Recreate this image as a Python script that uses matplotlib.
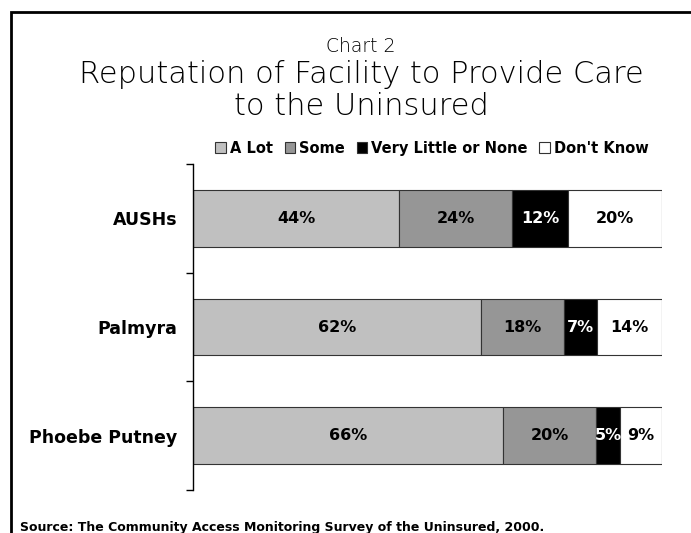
import numpy as np
import matplotlib
matplotlib.use("Agg")
import matplotlib.pyplot as plt
from matplotlib.patches import Rectangle, Patch

# data
facilities = ["AUSHs", "Palmyra", "Phoebe Putney"]
responses = ["A Lot", "Some", "Very Little or None", "Don't Know"]
a_lot = [44, 62, 66]
some = [24, 18, 20]
very_little = [12, 7, 5]
dont_know = [20, 14, 9]

colours = ["#c0c0c0", "#969696", "#000000", "#ffffff"]
text_colours = ["black", "black", "white", "black"]

plt.rcParams["font.family"] = ["DejaVu Sans"]

fig = plt.figure(figsize=(6.91, 5.33), dpi=100)
ax = fig.add_axes([193 / 691, 1 - 490 / 533, (662 - 193) / 691, (490 - 164) / 533])

# outer frame
fig.patches.append(Rectangle((11 / 691, -0.05), 1.0, 1 - 12 / 533 + 0.05,
                             transform=fig.transFigure, fill=False,
                             edgecolor="black", linewidth=2))

series = np.array([a_lot, some, very_little, dont_know], dtype=float)
totals = series.sum(axis=0)
shares = series / totals * 100  # 100% stacked like the original

y = np.arange(len(facilities))
left = np.zeros(len(facilities))
for k in range(len(responses)):
    ax.barh(y, shares[k], left=left, height=0.52, color=colours[k],
            edgecolor="#333333", linewidth=0.8, label=responses[k], zorder=2)
    for i in range(len(facilities)):
        ax.text(left[i] + shares[k][i] / 2, y[i], f"{int(series[k][i])}%",
                ha="center", va="center", fontsize=11.5, fontweight="bold",
                color=text_colours[k], zorder=3)
    left += shares[k]

ax.set_xlim(0, 100)
ax.set_ylim(2.5, -0.5)
ax.set_xticks([])
for s in ["top", "right", "bottom"]:
    ax.spines[s].set_visible(False)
ax.spines["left"].set_linewidth(1.0)

ax.set_yticks(y)
ax.set_yticklabels(facilities, fontsize=12.5, fontweight="bold")
ax.tick_params(axis="y", which="major", length=0, pad=11)
ax.set_yticks([-0.5, 0.5, 1.5, 2.5], minor=True)
ax.tick_params(axis="y", which="minor", length=5, width=1.0)

fig.text(361 / 691, 1 - 52 / 533, "Chart 2", ha="center", va="baseline",
         fontsize=13.5, fontweight="light", color="black")
fig.text(361 / 691, 1 - 83 / 533, "Reputation of Facility to Provide Care",
         ha="center", va="baseline", fontsize=22, fontweight="light",
         color="black")
fig.text(361 / 691, 1 - 115 / 533, "to the Uninsured",
         ha="center", va="baseline", fontsize=22, fontweight="light",
         color="black")

handles = [Patch(facecolor=c, edgecolor="#333333", linewidth=0.8) for c in colours]
fig.legend(handles, responses, loc="center", bbox_to_anchor=(432 / 691, 1 - 148 / 533),
           ncol=4, frameon=False, handlelength=0.7, handleheight=0.7,
           handletextpad=0.3, columnspacing=0.8, borderpad=0,
           prop={"weight": "bold", "size": 10.5})

fig.text(20 / 691, 1 - 531 / 533,
         "Source: The Community Access Monitoring Survey of the Uninsured, 2000.",
         ha="left", va="baseline", fontsize=9, fontweight="bold")

fig.savefig("out.png", dpi=100)
